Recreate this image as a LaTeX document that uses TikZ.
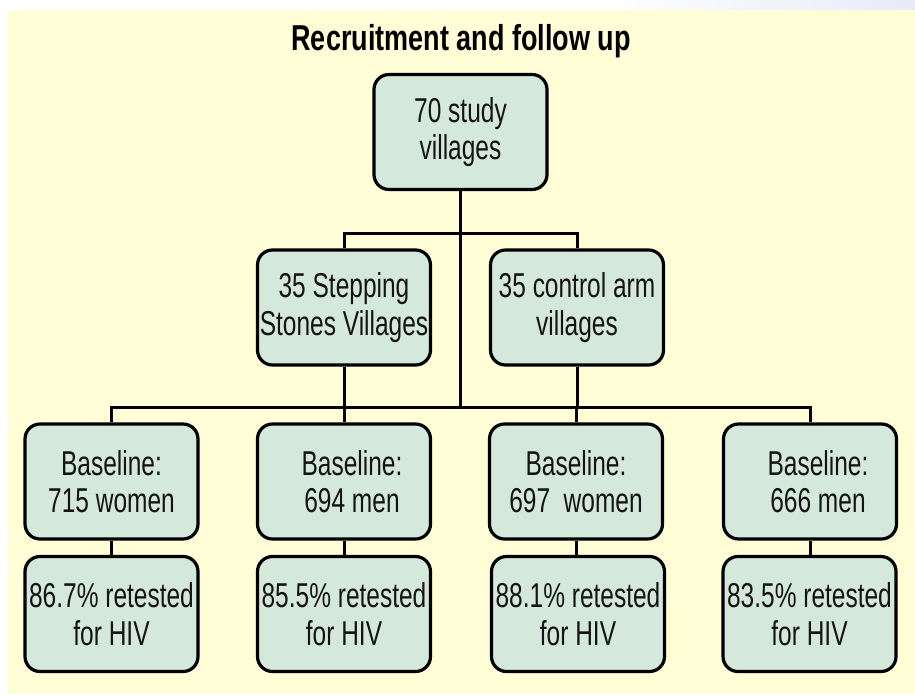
\documentclass[tikz,border=0pt]{standalone}
\usepackage{fontspec}
\newfontfamily\bodyfont[FakeStretch=0.71]{Liberation Sans}
\newfontfamily\titlefont[FakeStretch=0.75]{Liberation Sans}
\definecolor{bgyellow}{RGB}{255,254,214}
\definecolor{boxfill}{RGB}{213,232,220}
\definecolor{haze}{RGB}{232,234,248}
\tikzset{
  flowbox/.style={draw=black, line width=3.2pt, fill=boxfill, rounded corners=15pt,
    minimum width=173pt, minimum height=115pt, inner sep=0pt, align=center,
    font=\bodyfont\fontsize{34.5}{37.5}\selectfont, text=black!92},
  link/.style={draw=black, line width=3pt}
}
\begin{document}
\begin{tikzpicture}[x=1pt,y=-1pt]
\useasboundingbox (0,0) rectangle (915,694);
\fill[white] (0,0) rectangle (915,694);
\shade[left color=white, right color=haze] (600,0) rectangle (915,10);
\fill[bgyellow] (8,10) rectangle (915,694);

\node[anchor=base, font=\titlefont\bfseries\fontsize{36}{40}\selectfont] (title) at (461,50) {Recruitment and follow up};

\node[flowbox] (top) at (460.5,132) {70 study\\villages};
\node[flowbox] (m1) at (344,307.5) {35 Stepping\\Stones Villages};
\node[flowbox] (m2) at (577,307.5) {35 control arm\\villages};

\node[flowbox] (r1) at (111.5,481.5) {Baseline:\\715 women};
\node[flowbox] (r2) at (344,481.5) {\hspace*{16pt}Baseline:\\\hspace*{16pt}694 men};
\node[flowbox] (r3) at (576,481.5) {Baseline:\\697~~women};
\node[flowbox] (r4) at (810,481.5) {\hspace*{16pt}Baseline:\\\hspace*{16pt}666 men};

\node[flowbox] (s1) at (111.5,614) {86.7\% retested\\for HIV};
\node[flowbox] (s2) at (344,614) {85.5\% retested\\for HIV};
\node[flowbox] (s3) at (578,614) {88.1\% retested\\for HIV};
\node[flowbox] (s4) at (809.5,614) {83.5\% retested\\for HIV};

\coordinate (b1) at (460.5,233);
\coordinate (b2) at (460.5,407);

\draw[link] (top.south) -- (b2);
\draw[link] (m1.north) |- (b1) -| (m2.north);
\draw[link] (m1.south) -- (m1.south |- b2);
\draw[link] (m2.south) -- (m2.south |- b2);
\draw[link] (r1.north) |- (b2) -| (r4.north);
\draw[link] (r2.north) -- (r2.north |- b2);
\draw[link] (r3.north) -- (r3.north |- b2);
\draw[link] (r1.south) -- (s1.north);
\draw[link] (r2.south) -- (s2.north);
\draw[link] (r3.south) -- (r3.south |- s3.north);
\draw[link] (r4.south) -- (r4.south |- s4.north);
\end{tikzpicture}
\end{document}
